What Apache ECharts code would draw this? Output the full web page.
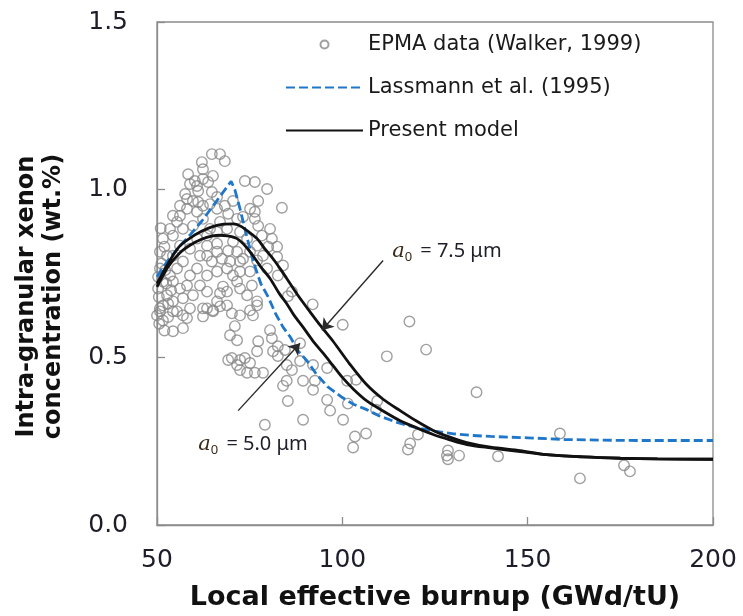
<!DOCTYPE html>
<html>
<head>
<meta charset="utf-8">
<script src="https://cdn.jsdelivr.net/npm/echarts@6/dist/echarts.min.js"></script>
<style>
html,body{margin:0;padding:0;background:#fff;}
#chart{width:743px;height:616px;}
</style>
</head>
<body>
<div id="chart"></div>
<script>
// ---- data ----
const xTicks = [50, 100, 150, 200];
const yTicks = [0.0, 0.5, 1.0, 1.5];

// EPMA data (Walker, 1999): [local burnup GWd/tU, Xe wt.%]
const epmaPoints = [
  [92.0,0.658],[100.1,0.597],[118.1,0.607],[112.0,0.503],[122.6,0.523],[136.2,0.396],[88.6,0.542],
  [92.1,0.477],[89.4,0.43],[92.6,0.43],[92.1,0.403],[95.9,0.468],[101.3,0.43],[103.7,0.433],
  [95.9,0.373],[101.5,0.362],[96.7,0.341],[100.2,0.314],[89.4,0.314],[109.4,0.37],[109.1,0.344],
  [103.4,0.264],[106.4,0.273],[102.9,0.231],[118.3,0.243],[117.7,0.225],[120.4,0.27],[128.5,0.222],
  [128.2,0.207],[131.5,0.207],[128.5,0.196],[142,0.205],[158.7,0.273],[164.1,0.139],[176,0.178],[177.6,0.16],
  [77,0.655],[75.9,0.625],[71,0.593],[54.3,0.578],[57,0.587],[69.7,0.566],[71.6,0.551],[80.5,0.581],
  [81,0.557],[77.3,0.548],[82.6,0.533],[84.5,0.522],[81.3,0.518],[77,0.518],[82.6,0.504],[70.2,0.498],
  [69.2,0.492],[72.4,0.492],[73.7,0.498],[71.6,0.477],[75.1,0.483],[72.4,0.462],[74.3,0.454],[76.4,0.454],
  [78.6,0.454],[85,0.477],[86.4,0.462],[88.6,0.489],[85,0.43],[84,0.415],[85.3,0.37],[79.1,0.299],
  [50.8,0.637],[51.6,0.655],[54.3,0.637],[57,0.625],[63.5,0.646],[65.1,0.637],[67,0.652],
  [64.8,1.106],[67,1.106],[68.3,1.085],[62.1,1.082],[62.4,1.061],[58.4,1.046],[60.2,1.026],[63.8,1.023],
  [58.9,1.017],[61.1,0.996],[64.8,0.993],[57.6,0.987],[73.7,1.026],[76.4,1.023],[79.7,1.002],[77.3,0.966],
  [83.7,0.946],[75.1,0.943],[76.4,0.934],[58.1,0.972],[61.1,0.963],[56.2,0.952],[58.1,0.943],[64.3,0.957],
  [66.2,0.943],[69.2,0.928],[71.6,0.913],[73.2,0.919],[76.4,0.913],[77.3,0.892],[78.3,0.863],[80.5,0.883],
  [81,0.854],[80,0.83],[82.4,0.83],[77,0.833],[75.1,0.815],[78.6,0.803],[77,0.789],[73.2,0.794],
  [79.7,0.765],[84,0.774],[82.6,0.744],[75.1,0.756],[72.4,0.756],[71.6,0.726],[75.6,0.714],[72.4,0.705],
  [67.8,0.711],[67,0.691],[66.2,0.667],[65.1,0.64],[62.4,0.646],[63.5,0.696],[61.6,0.714],[59.7,0.685],
  [57,0.676],[58.9,0.646],[55.4,0.637],[54.3,0.667],[52.7,0.685],[50.8,0.646],[50,0.625],[51.6,0.61],
  [58.1,0.617],[62.4,0.622],[68.9,0.655],[70.2,0.631],[72.4,0.625],[75.1,0.64],[77,0.667],[68.9,0.696],
  [74.3,0.685],[86.4,0.696],[85.3,0.682],[82.4,0.8],[69.2,0.818],[66.2,0.839],[63.5,0.833],[61.6,0.803],
  [64.8,0.786],[67.5,0.794],[68.9,0.765],[66.2,0.756],[63.5,0.744],[60.8,0.765],[58.9,0.744],[57,0.786],
  [55.4,0.765],[53.5,0.744],[51.6,0.726],[52.7,0.803],[51.6,0.854],[54.3,0.863],[57,0.883],[59.7,0.892],
  [62.4,0.913],[64.3,0.883],[67,0.904],[55.4,0.904],[53.5,0.883],[56.2,0.922],[50.8,0.815],[50.8,0.765],
  [50.3,0.705],[54.3,0.726],[56.2,0.705],[58.1,0.714],[70.5,0.744],[69.7,0.786],[72.4,0.786],[74.3,0.854],
  [72.4,0.874],[68.9,0.883],[70.5,0.845],[66.2,0.874],[63.5,0.863],[60.8,0.854],[58.9,0.824],[56.2,0.833],
  [54.3,0.803],[66.2,0.815],[63.5,0.803],[71.6,0.815],[60.8,0.934],[62.4,0.952],[59.7,0.966],[54.3,0.922],
  [68.3,0.952],[70.5,0.966],[66.2,0.978],[60.8,1.011],[62.4,1.032],[65.1,1.041],
  [50.5,0.68],[51.2,0.78],[50.3,0.74],[52,0.83],[51,0.885],[52.5,0.72],[53,0.66],[52.2,0.76],
  [53.8,0.7],[50.6,0.6],[52,0.58],[53,0.62]
];

// Lassmann et al. (1995)
const lassmannX = [50,53,56,59,62,65,68,70,71,72.4,74,76,78,80,82,84,86,88,90.5,93,96,100,103,106.6,110,115,120,125,130,135,140,150,160,170,180,190,200];
const lassmannY = [0.74,0.79,0.83,0.866,0.905,0.95,0.995,1.025,1.0,0.943,0.87,0.785,0.72,0.68,0.63,0.59,0.56,0.52,0.489,0.45,0.413,0.38,0.36,0.344,0.325,0.305,0.29,0.28,0.272,0.267,0.264,0.26,0.255,0.253,0.252,0.252,0.252];

// Present model, a0 = 7.5 um
const model75X = [50,53,56,59,62,65,68,70.5,72.4,75,77,79,81.3,83.5,85,88,91,94,97.5,102,106.6,111,115.6,120,124.5,129,133.6,140,148,155,165,175,185,200];
const model75Y = [0.72,0.78,0.83,0.856,0.876,0.89,0.897,0.898,0.892,0.872,0.854,0.825,0.794,0.76,0.735,0.685,0.64,0.596,0.548,0.48,0.418,0.375,0.341,0.31,0.282,0.262,0.246,0.232,0.222,0.21,0.203,0.199,0.197,0.196];

// Present model, a0 = 5.0 um
const model50X = [50,53,56,59,62,65,67,69,71.6,74,75.9,78,80.5,83,85,87,89.4,92,95,97.5,100,103,106.6,111,115.6,120,124.5,129,133.6,140,148,155,165,175,185,200];
const model50Y = [0.71,0.77,0.81,0.835,0.852,0.862,0.864,0.862,0.854,0.83,0.803,0.77,0.735,0.69,0.66,0.625,0.59,0.55,0.51,0.475,0.44,0.405,0.37,0.34,0.311,0.29,0.27,0.254,0.24,0.23,0.219,0.21,0.203,0.199,0.197,0.196];

const zip = (xs, ys) => xs.map((x, i) => [x, ys[i]]);

const tickFont = 'DejaVu Sans';
const chart = echarts.init(document.getElementById('chart'), null, {renderer: 'canvas'});

const annoRich = {
  i: {fontFamily: 'DejaVu Serif', fontStyle: 'italic', fontSize: 21, color: '#3a2a1a'},
  s: {fontFamily: 'Noto Sans', fontSize: 13, color: '#3a2a1a', verticalAlign: 'bottom', padding: [12, 3, 0, 0]},
  t: {fontFamily: 'Noto Sans', fontSize: 20, color: '#1f1f2a'}
};

chart.setOption({
  animation: false,
  backgroundColor: '#fff',
  grid: {left: 157, right: 30, top: 22, bottom: 88, show: true, borderColor: '#8c8c8c', borderWidth: 1.3, backgroundColor: 'transparent'},
  legend: {
    orient: 'vertical', left: 285, top: 34, padding: 0, itemGap: 22, itemWidth: 77, itemHeight: 8,
    textStyle: {fontFamily: tickFont, fontSize: 21, color: '#1a1a1a', lineHeight: 21, padding: [0, 0, 0, 0]},
    selectedMode: false,
    data: [
      {name: 'EPMA data (Walker, 1999)', icon: 'circle'},
      {name: 'Lassmann et al. (1995)', itemStyle: {opacity: 0}},
      {name: 'Present model', itemStyle: {opacity: 0}}
    ]
  },
  xAxis: {
    type: 'value', min: xTicks[0], max: xTicks[xTicks.length - 1], interval: 50,
    name: 'Local effective burnup (GWd/tU)', nameLocation: 'middle', nameGap: 59,
    nameTextStyle: {fontFamily: tickFont, fontWeight: 'bold', fontSize: 27, color: '#111'},
    axisLine: {lineStyle: {color: '#8c8c8c', width: 1.3}},
    axisTick: {inside: true, length: 8, lineStyle: {color: '#8c8c8c', width: 1.3}},
    axisLabel: {fontFamily: tickFont, fontSize: 25, color: '#1e1e2a', margin: 23},
    splitLine: {show: false}
  },
  yAxis: {
    type: 'value', min: yTicks[0], max: yTicks[yTicks.length - 1], interval: 0.5,
    name: 'Intra-granular xenon\nconcentration (wt.%)', nameLocation: 'middle', nameGap: 90,
    nameTextStyle: {fontFamily: tickFont, fontWeight: 'bold', fontSize: 24, color: '#111', lineHeight: 27, padding: [0, 46, 0, 0]},
    axisLine: {lineStyle: {color: '#8c8c8c', width: 1.3}},
    axisTick: {inside: true, length: 8, lineStyle: {color: '#8c8c8c', width: 1.3}},
    axisLabel: {fontFamily: tickFont, fontSize: 25, color: '#1e1e2a', margin: 29, formatter: v => v.toFixed(1)},
    splitLine: {show: false}
  },
  series: [
    {
      name: 'EPMA data (Walker, 1999)', type: 'scatter', data: epmaPoints,
      symbol: 'circle', symbolSize: 10.5,
      itemStyle: {color: 'rgba(255,255,255,0)', borderColor: '#878787', borderWidth: 1.4},
      z: 2
    },
    {
      name: 'Lassmann et al. (1995)', type: 'line', data: zip(lassmannX, lassmannY),
      symbol: 'none', smooth: false,
      lineStyle: {color: '#1f77c9', width: 2.8, type: [9, 4]},
      itemStyle: {color: '#1f77c9'},
      z: 3
    },
    {
      name: 'Present model', type: 'line', data: zip(model75X, model75Y),
      symbol: 'none', smooth: 0.3,
      lineStyle: {color: '#111', width: 2.8},
      itemStyle: {color: '#111'},
      z: 4,
      markLine: {
        silent: true, symbol: ['none', 'arrow'], symbolSize: 11,
        lineStyle: {color: '#2a2a2a', width: 1.4, type: 'solid'},
        label: {show: false},
        data: [
          [{coord: [111.0, 0.789]}, {coord: [94.5, 0.581]}],
          [{coord: [71.9, 0.341]}, {coord: [88.6, 0.542]}]
        ]
      },
      markPoint: {
        silent: true, symbol: 'circle', symbolSize: 0,
        label: {show: true, position: 'inside', rich: annoRich},
        data: [
          {coord: [128.2, 0.815], label: {formatter: '{i|a}{s|0}{t| = 7.5 μm}'}},
          {coord: [75.9, 0.240], label: {formatter: '{i|a}{s|0}{t| = 5.0 μm}'}}
        ]
      }
    },
    {
      name: 'Present model', type: 'line', data: zip(model50X, model50Y),
      symbol: 'none', smooth: 0.3,
      lineStyle: {color: '#111', width: 2.8},
      itemStyle: {color: '#111'},
      z: 4
    }
  ]
});
</script>
</body>
</html>
